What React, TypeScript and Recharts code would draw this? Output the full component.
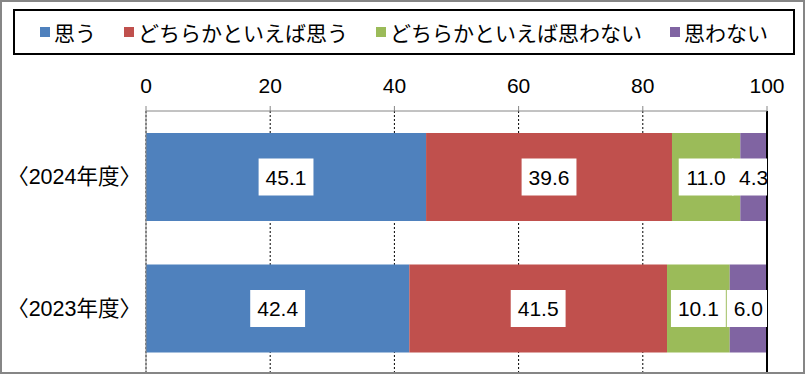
import { BarChart, Bar, XAxis, YAxis, CartesianGrid, Legend, LabelList, ReferenceLine } from 'recharts'

const categories = ['〈2024年度〉', '〈2023年度〉']
const seriesNames = ['思う', 'どちらかといえば思う', 'どちらかといえば思わない', '思わない']
const seriesColors = ['#4F81BD', '#C0504D', '#9BBB59', '#8064A2']
const agree = [45.1, 42.4]
const somewhatAgree = [39.6, 41.5]
const somewhatDisagree = [11.0, 10.1]
const disagree = [4.3, 6.0]
const xTicks = [0, 20, 40, 60, 80, 100]

const seriesValues = [agree, somewhatAgree, somewhatDisagree, disagree]
const keys = ['s0', 's1', 's2', 's3']

const data = categories.map((name, i) => {
  const row: Record<string, string | number> = { name }
  keys.forEach((k, j) => {
    row[k] = seriesValues[j][i]
  })
  return row
})

const W = 805
const H = 374
const MARGIN = { top: 35, right: 38, bottom: 0, left: 0 }
const PLOT_RIGHT = W - MARGIN.right
const FONT = "'Liberation Sans', 'Noto Sans CJK JP', sans-serif"
const LABEL_SIZE = 21

function textWidth(s: string) {
  let w = 0
  for (const ch of s) w += ch === '.' ? 0.278 : 0.556
  return w * LABEL_SIZE
}

function BoxLabel(props: any) {
  const { x, y, width, height, value } = props
  const txt = Number(value).toFixed(1)
  const cx = x + width / 2
  const cy = y + height / 2
  const bw = textWidth(txt) + 14
  const bh = 37
  const left = cx - bw / 2
  const right = Math.min(cx + bw / 2, PLOT_RIGHT)
  return (
    <g>
      <rect x={left} y={cy - bh / 2} width={right - left} height={bh} fill="#fff" />
      <text
        x={cx}
        y={cy}
        textAnchor="middle"
        dominantBaseline="central"
        fontSize={LABEL_SIZE}
        fontFamily={FONT}
        fill="#000"
      >
        {txt}
      </text>
    </g>
  )
}

function LegendBox() {
  return (
    <div
      style={{
        boxSizing: 'border-box',
        width: 782,
        height: 46,
        border: '2px solid #000',
        display: 'flex',
        alignItems: 'center',
        justifyContent: 'center',
        gap: 28,
        fontFamily: FONT,
        fontSize: 21,
        color: '#000',
        background: '#fff',
      }}
    >
      {seriesNames.map((n, i) => (
        <div key={n} style={{ display: 'flex', alignItems: 'center' }}>
          <span style={{ width: 10, height: 10, background: seriesColors[i], marginRight: 4, display: 'inline-block' }} />
          <span>{n}</span>
        </div>
      ))}
    </div>
  )
}

export default function App() {
  return (
    <div style={{ position: 'absolute', left: 0, top: 0, width: W, height: H, background: '#fff' }}>
      <BarChart width={W} height={H} data={data} layout="vertical" margin={MARGIN} barSize={88}>
        <Legend
          verticalAlign="top"
          align="left"
          content={() => <LegendBox />}
          wrapperStyle={{ top: 9, left: 13, width: 782 }}
        />
        <CartesianGrid horizontal={false} stroke="#000" strokeDasharray="2 2" />
        <XAxis
          type="number"
          orientation="top"
          domain={[0, 100]}
          ticks={xTicks}
          interval={0}
          stroke="#868686"
          tickSize={5}
          tickMargin={13}
          tick={{ fill: '#000', fontSize: 21, fontFamily: FONT }}
        />
        <YAxis
          type="category"
          dataKey="name"
          width={146}
          stroke="#868686"
          tickLine={false}
          tickSize={0}
          tickMargin={5}
          tick={{ fill: '#000', fontSize: 21.5, fontFamily: FONT }}
        />
        {keys.map((k, i) => (
          <Bar key={k} dataKey={k} name={seriesNames[i]} stackId="a" fill={seriesColors[i]} isAnimationActive={false}>
            <LabelList dataKey={k} content={BoxLabel} />
          </Bar>
        ))}
        <ReferenceLine x={100} stroke="#000" strokeWidth={2} />
      </BarChart>
      <div
        style={{
          position: 'absolute',
          left: 0,
          top: 0,
          width: W,
          height: H,
          boxSizing: 'border-box',
          border: '2px solid #868686',
          pointerEvents: 'none',
        }}
      />
    </div>
  )
}
